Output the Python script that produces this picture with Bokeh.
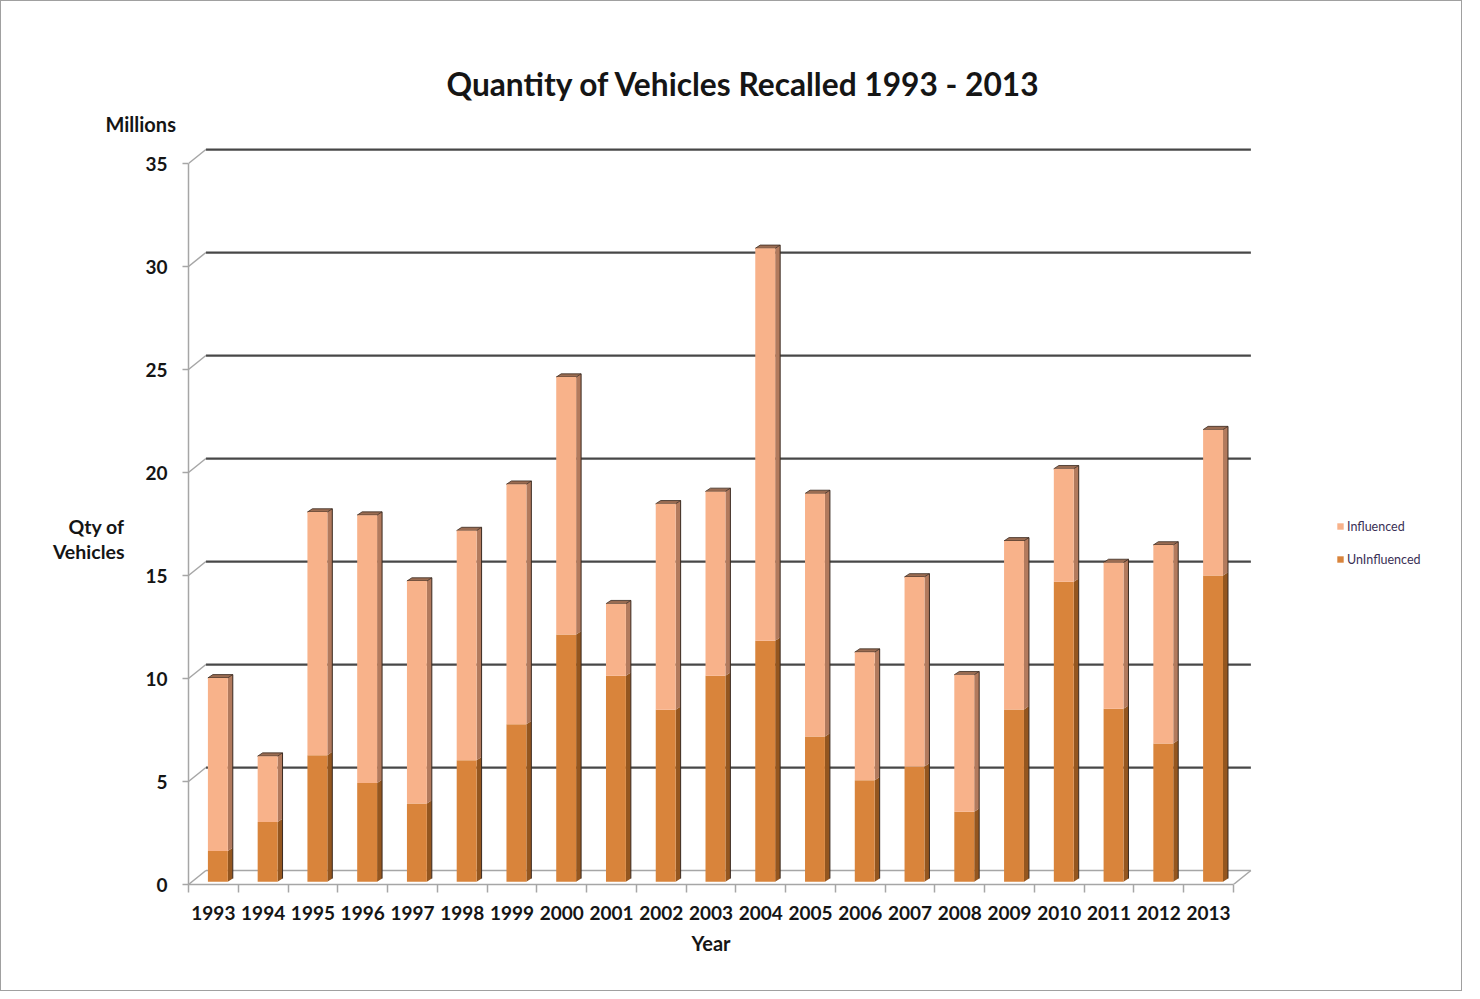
import numpy as np
from bokeh.plotting import figure
from bokeh.models import FixedTicker, Legend, LegendItem, Range1d, Title
from bokeh.embed import file_html
from bokeh.resources import INLINE

# ---------------- data ----------------
years = ["1993", "1994", "1995", "1996", "1997", "1998", "1999", "2000", "2001", "2002",
         "2003", "2004", "2005", "2006", "2007", "2008", "2009", "2010", "2011", "2012", "2013"]
uninfluenced = [1.5, 2.9, 6.15, 4.8, 3.8, 5.9, 7.65, 12.0, 10.0, 8.35,
                10.0, 11.7, 7.05, 4.93, 5.6, 3.4, 8.37, 14.57, 8.4, 6.72, 14.87]
influenced = [8.4, 3.2, 11.8, 13.0, 10.8, 11.15, 11.65, 12.5, 3.5, 10.0,
              8.95, 19.05, 11.8, 6.22, 9.2, 6.65, 8.18, 5.48, 7.1, 9.63, 7.08]
y_ticks = [0, 5, 10, 15, 20, 25, 30, 35]

# ---------------- layout / style constants ----------------
W, H = 1462, 991
ML, MR, MT, MB = 187, 10, 142, 108
PX_PER_CAT = 49.76
PX_PER_UNIT = 20.6
frame_w = W - ML - MR
frame_h = H - MT - MB

DX_WALL, DY_WALL = 0.35, 0.68
BAR_W = 0.40
BAR_SHIFT = 0.09
BAR_BASE = 0.13
BAR_DX, BAR_DY = 0.10, 0.16

C_INF, C_INF_SIDE = "#f8b28a", "#b27a5d"
C_UN, C_UN_SIDE = "#d9843b", "#94561f"
C_TOP, C_EDGE = "#9a6c52", "#3a2a20"
GRID_DARK, GRID_LIGHT = "#474747", "#a6a6a6"
FONT = "Lato"
TXT = "#151515"

n = len(years)
idx = np.arange(n)
unin = np.array(uninfluenced)
inf = np.array(influenced)
n_cat = float(n)

p = figure(width=W, height=H, output_backend="svg", toolbar_location=None, title=None,
           x_range=Range1d(0, frame_w / PX_PER_CAT), y_range=Range1d(0, frame_h / PX_PER_UNIT),
           min_border_left=ML, min_border_right=MR, min_border_top=MT, min_border_bottom=MB)
p.outline_line_color = None
p.xgrid.visible = False
p.ygrid.visible = False
p.background_fill_color = "white"
p.border_fill_color = "white"
p.styles = {"border": "1px solid #a0a0a0"}

# ---------------- back wall gridlines & left wall diagonals ----------------
gv = np.array(y_ticks[1:], dtype=float)
p.segment(x0=DX_WALL, x1=n_cat + DX_WALL, y0=gv + DY_WALL - 0.05, y1=gv + DY_WALL - 0.05,
          line_color=GRID_LIGHT, line_width=1)
p.segment(x0=DX_WALL, x1=n_cat + DX_WALL, y0=gv + DY_WALL, y1=gv + DY_WALL,
          line_color=GRID_DARK, line_width=1.8)
av = np.array(y_ticks, dtype=float)
p.segment(x0=0, x1=DX_WALL, y0=av, y1=av + DY_WALL, line_color=GRID_LIGHT, line_width=1.5)

# floor
p.segment(x0=[DX_WALL, n_cat], x1=[n_cat + DX_WALL, n_cat + DX_WALL],
          y0=[DY_WALL, 0], y1=[DY_WALL, DY_WALL], line_color=GRID_LIGHT, line_width=1.5)

# ---------------- bars ----------------
xc = idx + 0.5 + BAR_SHIFT
xl = xc - BAR_W / 2
xr = xc + BAR_W / 2
b0 = np.full(n, BAR_BASE)
u_top = b0 + unin
t_top = u_top + inf

def side(y_lo, y_hi):
    xs = [[a, a + BAR_DX, a + BAR_DX, a] for a in xr]
    ys = [[lo, lo + BAR_DY, hi + BAR_DY, hi] for lo, hi in zip(y_lo, y_hi)]
    return xs, ys

xs, ys = side(b0, u_top)
p.patches(xs=xs, ys=ys, fill_color=C_UN_SIDE, line_color=None)
xs, ys = side(u_top, t_top)
p.patches(xs=xs, ys=ys, fill_color=C_INF_SIDE, line_color=None)

top_xs = [[a, b, b + BAR_DX, a + BAR_DX] for a, b in zip(xl, xr)]
top_ys = [[t, t, t + BAR_DY, t + BAR_DY] for t in t_top]
p.patches(xs=top_xs, ys=top_ys, fill_color=C_TOP, line_color=C_EDGE, line_width=0.8)

p.segment(x0=xr + BAR_DX, x1=xr + BAR_DX, y0=b0 + BAR_DY, y1=t_top + BAR_DY,
          line_color=C_EDGE, line_width=1)

r_un = p.vbar(x=xc, width=BAR_W, bottom=b0, top=u_top, fill_color=C_UN, line_color=None)
r_inf = p.vbar(x=xc, width=BAR_W, bottom=u_top, top=t_top, fill_color=C_INF, line_color=None)

# ---------------- axes ----------------
yax = p.yaxis[0]
yax.ticker = FixedTicker(ticks=y_ticks, minor_ticks=[])
yax.bounds = (0, y_ticks[-1])
yax.axis_line_color = GRID_LIGHT
yax.axis_line_width = 1.5
yax.major_tick_line_color = GRID_LIGHT
yax.major_tick_line_width = 1.5
yax.major_tick_out = 6
yax.major_tick_in = 0
yax.major_label_standoff = 15
yax.major_label_text_font = FONT
yax.major_label_text_font_style = "bold"
yax.major_label_text_font_size = "19px"
yax.major_label_text_color = TXT
# two leading empty lines lower the visible two-line label to where the reference has it
yax.axis_label = "\n\nQty of\nVehicles"
yax.axis_label_orientation = "horizontal"
yax.axis_label_standoff = 18
yax.axis_label_text_font = FONT
yax.axis_label_text_font_style = "bold"
yax.axis_label_text_font_size = "19.5px"
yax.axis_label_text_line_height = 1.1
yax.axis_label_text_color = TXT

xax = p.xaxis[0]
centers = [i + 0.5 for i in range(n)]
bounds_t = [float(i) for i in range(n + 1)]
xax.ticker = FixedTicker(ticks=centers, minor_ticks=bounds_t)
xax.major_label_overrides = {c: y for c, y in zip(centers, years)}
xax.bounds = (0, n_cat)
xax.axis_line_color = GRID_LIGHT
xax.axis_line_width = 1.5
xax.major_tick_line_color = None
xax.major_tick_out = 0
xax.major_tick_in = 0
xax.minor_tick_line_color = GRID_LIGHT
xax.minor_tick_line_width = 1.5
xax.minor_tick_out = 8
xax.minor_tick_in = 0
xax.major_label_standoff = 13
xax.major_label_text_font = FONT
xax.major_label_text_font_style = "bold"
xax.major_label_text_font_size = "19px"
xax.major_label_text_color = TXT

# ---------------- titles ----------------
p.add_layout(Title(text="Year", align="left", offset=503, standoff=13,
                   text_font=FONT, text_font_style="bold", text_font_size="20px",
                   text_color=TXT), "below")
p.add_layout(Title(text="Millions", align="left", offset=-83, standoff=15,
                   text_font=FONT, text_font_style="bold", text_font_size="20px",
                   text_color=TXT), "above")
p.add_layout(Title(text="Quantity of Vehicles Recalled 1993 - 2013", align="left", offset=258,
                   standoff=0, text_font=FONT, text_font_style="bold", text_font_size="31.7px",
                   text_color=TXT), "above")

# ---------------- legend ----------------
legend = Legend(items=[LegendItem(label="Influenced", renderers=[r_inf]),
                       LegendItem(label="UnInfluenced", renderers=[r_un])],
                location=(1148, 317.5), orientation="vertical",
                glyph_width=8, glyph_height=8, label_height=9, spacing=18,
                padding=0, margin=0, label_standoff=3,
                border_line_color=None, background_fill_alpha=0,
                label_text_font=FONT, label_text_font_size="12.5px", label_text_color="#3a2f55")
p.add_layout(legend)

open("out.html", "w").write(file_html(p, INLINE))
